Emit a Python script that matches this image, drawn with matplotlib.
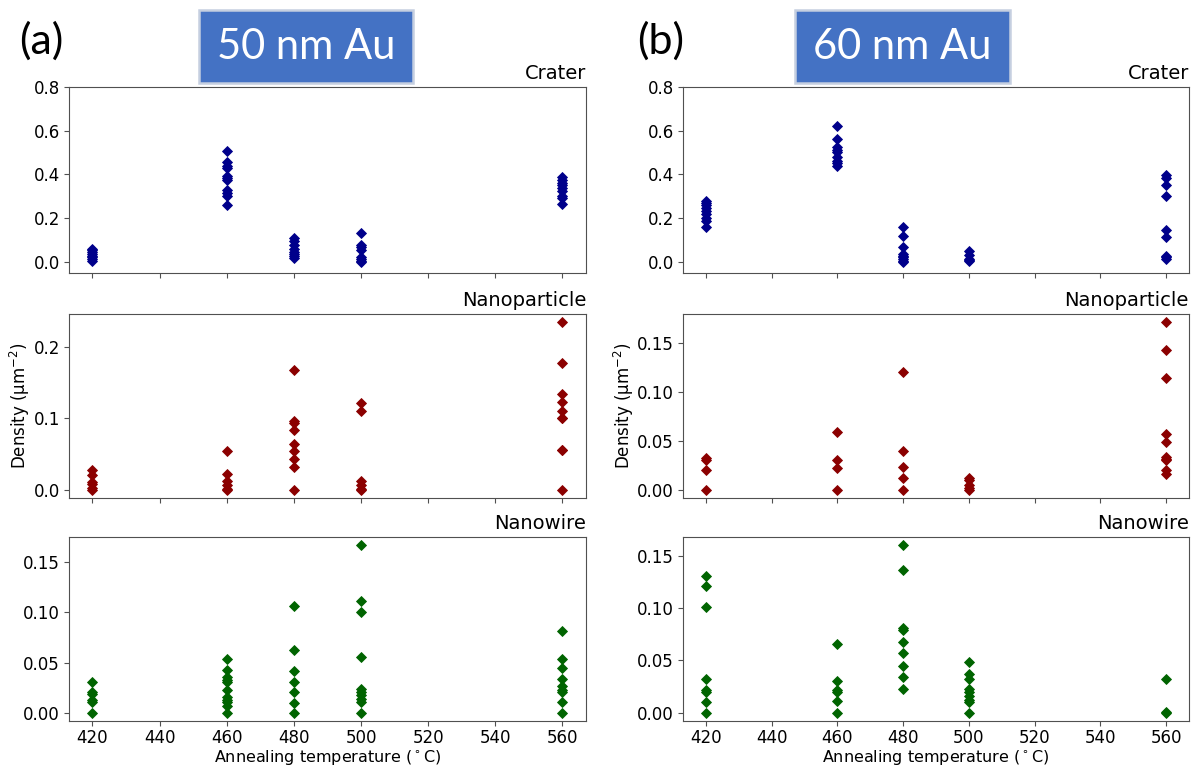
import numpy as np
import matplotlib
matplotlib.use("Agg")
import matplotlib.pyplot as plt
from matplotlib.patches import Rectangle

# Annealing temperatures (deg C)
temps = [420, 460, 480, 500, 560]

# 50 nm Au film: densities (um^-2), one list per temperature
crater_50 = [
    [0.060, 0.055, 0.045, 0.035, 0.028, 0.020, 0.012, 0.004],
    [0.507, 0.455, 0.440, 0.430, 0.395, 0.383, 0.374, 0.327, 0.316, 0.300, 0.259],
    [0.107, 0.094, 0.076, 0.060, 0.046, 0.035, 0.027, 0.018],
    [0.133, 0.076, 0.066, 0.056, 0.022, 0.012, 0.006, 0.000],
    [0.387, 0.375, 0.363, 0.350, 0.338, 0.325, 0.300, 0.290, 0.266],
]
particle_50 = [
    [0.028, 0.021, 0.011, 0.008, 0.002, 0.000],
    [0.054, 0.022, 0.012, 0.007, 0.001, 0.000],
    [0.168, 0.097, 0.094, 0.084, 0.064, 0.054, 0.043, 0.032, 0.000],
    [0.122, 0.111, 0.012, 0.006, 0.001, 0.000],
    [0.235, 0.178, 0.135, 0.123, 0.111, 0.101, 0.100, 0.056, 0.055, 0.000],
]
wire_50 = [
    [0.031, 0.021, 0.019, 0.013, 0.011, 0.000],
    [0.054, 0.043, 0.036, 0.033, 0.031, 0.023, 0.016, 0.013, 0.011, 0.007, 0.000],
    [0.106, 0.063, 0.042, 0.031, 0.021, 0.010, 0.000],
    [0.167, 0.111, 0.100, 0.056, 0.024, 0.021, 0.018, 0.014, 0.011, 0.000],
    [0.082, 0.054, 0.045, 0.034, 0.027, 0.023, 0.021, 0.011, 0.000],
]

# 60 nm Au film
crater_60 = [
    [0.280, 0.270, 0.260, 0.248, 0.233, 0.218, 0.200, 0.185, 0.158],
    [0.620, 0.561, 0.524, 0.514, 0.504, 0.481, 0.462, 0.450, 0.440],
    [0.159, 0.119, 0.068, 0.037, 0.027, 0.020, 0.013, 0.005, 0.001],
    [0.048, 0.030, 0.015, 0.008, 0.002],
    [0.396, 0.385, 0.351, 0.303, 0.145, 0.114, 0.029, 0.022, 0.012],
]
particle_60 = [
    [0.032, 0.030, 0.020, 0.000],
    [0.059, 0.030, 0.022, 0.000],
    [0.120, 0.040, 0.023, 0.012, 0.000],
    [0.012, 0.010, 0.005, 0.002, 0.000],
    [0.171, 0.143, 0.114, 0.057, 0.049, 0.033, 0.031, 0.030, 0.020, 0.016],
]
wire_60 = [
    [0.131, 0.121, 0.101, 0.032, 0.022, 0.020, 0.010, 0.000],
    [0.066, 0.030, 0.022, 0.020, 0.011, 0.000],
    [0.160, 0.136, 0.081, 0.079, 0.068, 0.057, 0.045, 0.034, 0.023],
    [0.048, 0.037, 0.032, 0.023, 0.020, 0.016, 0.012, 0.010, 0.000],
    [0.032, 0.001, 0.000],
]

row_titles = ["Crater", "Nanoparticle", "Nanowire"]
row_colors = ["#00008B", "#8B0000", "#006400"]
panel_tags = ["(a)", "(b)"]
film_labels = ["50 nm Au", "60 nm Au"]
columns = [
    [crater_50, particle_50, wire_50],
    [crater_60, particle_60, wire_60],
]

W, H = 1197, 769
fig = plt.figure(figsize=(W / 100, H / 100), dpi=100)


def fx(px):
    return px / W


def fy(py):
    return 1 - py / H


col_x = [(69, 586), (683, 1189)]
row_y = [(87, 273), (314, 498), (537, 721)]

spine_col = "#505050"
for c, (x0, x1) in enumerate(col_x):
    for r, (y0, y1) in enumerate(row_y):
        ax = fig.add_axes([fx(x0), fy(y1), fx(x1 - x0), (y1 - y0) / H])
        for t, vals in zip(temps, columns[c][r]):
            ax.plot(np.full(len(vals), t), vals, "D", ms=4.6,
                    color=row_colors[r], mec=row_colors[r], mew=0.6)
        ax.set_xlim(413, 567)
        ax.set_xticks(np.arange(420, 561, 20))
        if r == 0:
            ax.set_ylim(-0.051, 0.8)
            ax.set_yticks([0.0, 0.2, 0.4, 0.6, 0.8])
        ax.set_title(row_titles[r], loc="right", fontsize=14)
        ax.tick_params(labelsize=12, color=spine_col, pad=3)
        ax.tick_params(axis="x", pad=2)
        for s in ax.spines.values():
            s.set_color(spine_col)
        if r < 2:
            ax.tick_params(labelbottom=False)
        else:
            ax.set_xlabel(r"Annealing temperature ($^\circ$C)", fontsize=11.5)
            # anchor the label's bottom just above the figure edge
            ax.xaxis.label.set_va("bottom")
            ax.xaxis.set_label_coords(0.5, (y1 - 767) / (y1 - y0))
        if r == 1:
            ax.set_ylabel(r"Density (μm$^{-2}$)", fontsize=12, labelpad=1)

# Panel tags and film-thickness badges
tag_x = [41, 661]
box_x = [(199, 413), (795, 1010)]
for c in range(2):
    fig.text(fx(tag_x[c]), fy(41), panel_tags[c], fontsize=31,
             family="Lato", ha="center", va="center")
    bx0, bx1 = box_x[c]
    fig.patches.append(Rectangle((fx(bx0), fy(83)), fx(bx1 - bx0), 73 / H,
                                 transform=fig.transFigure,
                                 facecolor="#4472C4", edgecolor="#C5CFE0",
                                 linewidth=1.8, zorder=5))
    fig.text(fx((bx0 + bx1) / 2), fy(47), film_labels[c], fontsize=30,
             family="Lato", color="white", ha="center", va="center", zorder=6)

fig.savefig("out.png", dpi=100)
